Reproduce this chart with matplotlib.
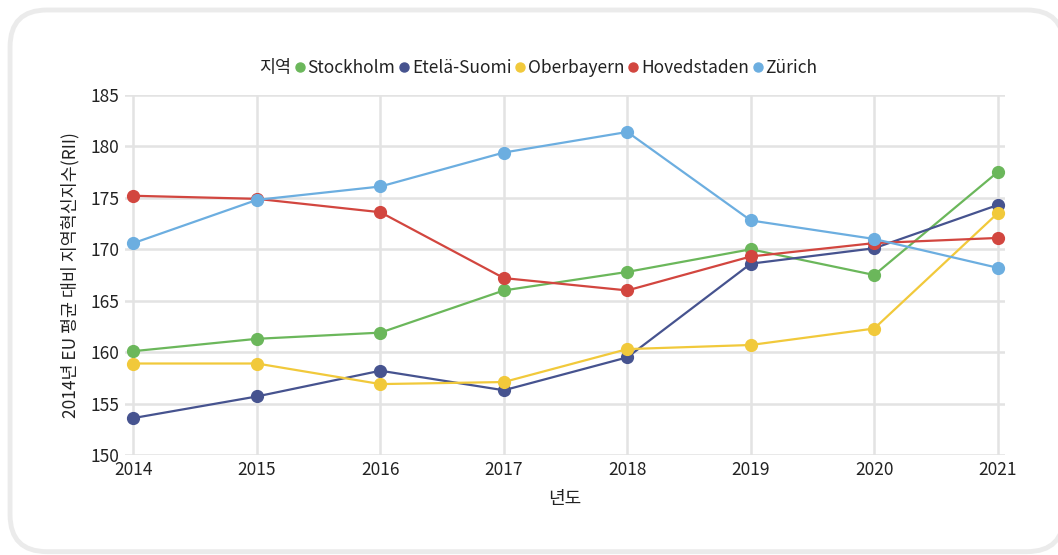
import matplotlib.pyplot as plt
from matplotlib.patches import FancyBboxPatch
from matplotlib.lines import Line2D

plt.rcParams['font.family'] = ['Noto Sans CJK KR', 'DejaVu Sans']

years = [2014, 2015, 2016, 2017, 2018, 2019, 2020, 2021]
stockholm = [160.1, 161.3, 161.9, 166.0, 167.8, 170.0, 167.5, 177.5]
etela_suomi = [153.6, 155.7, 158.2, 156.3, 159.5, 168.6, 170.1, 174.3]
oberbayern = [158.9, 158.9, 156.9, 157.1, 160.3, 160.7, 162.3, 173.5]
hovedstaden = [175.2, 174.9, 173.6, 167.2, 166.0, 169.3, 170.6, 171.1]
zurich = [170.6, 174.8, 176.1, 179.4, 181.4, 172.8, 171.0, 168.2]

series = [
    ('Stockholm', stockholm, '#6bb75b'),
    ('Etelä-Suomi', etela_suomi, '#46538f'),
    ('Oberbayern', oberbayern, '#f1c93b'),
    ('Hovedstaden', hovedstaden, '#d2463f'),
    ('Zürich', zurich, '#6caee0'),
]

fig = plt.figure(figsize=(10.58, 5.55), dpi=100)

# 둥근 카드 테두리 (오른쪽은 그림 밖으로 살짝 나감)
card = FancyBboxPatch((0.0095, 0.006), 0.996, 0.976, boxstyle='round,pad=0,rounding_size=0.035',
                      transform=fig.transFigure, facecolor='white', edgecolor='#ebebeb',
                      linewidth=3.5, mutation_aspect=1.9, zorder=-5)
fig.patches.append(card)

ax = fig.add_axes([0.118, 0.18, 0.832, 0.649])
for name, vals, col in series:
    ax.plot(years, vals, color=col, linewidth=1.6, marker='o', markersize=8.5, label=name, zorder=3)

ax.set_xlim(2013.93, 2021.06)
ax.set_ylim(150, 185)
ax.set_yticks(range(150, 186, 5))
ax.set_xticks(years)
ax.grid(True, color='#e3e3e3', linewidth=1.8)
ax.set_axisbelow(True)
for s in ax.spines.values():
    s.set_visible(False)
ax.tick_params(length=0, labelsize=12.5, colors='#222222', pad=4)
ax.set_facecolor('none')

ax.set_xlabel('년도', fontsize=13, color='#222222', labelpad=8)
ax.set_ylabel('2014년 EU 평균 대비 지역혁신지수(RII)', fontsize=12.5, color='#222222', labelpad=8)

handles = [Line2D([], [], linestyle='none', marker='o', markersize=6.5, color=c) for _, _, c in series]
labels = [n for n, _, _ in series]
title_h = Line2D([], [], linestyle='none')
leg = fig.legend([title_h] + handles, ['지역'] + labels, loc='center', bbox_to_anchor=(0.503, 0.878),
                 ncol=6, frameon=False, fontsize=12.5, handlelength=0.5, handletextpad=0.2,
                 columnspacing=0.25)
for t in leg.get_texts():
    t.set_color('#222222')

fig.savefig('out.png', dpi=100)
